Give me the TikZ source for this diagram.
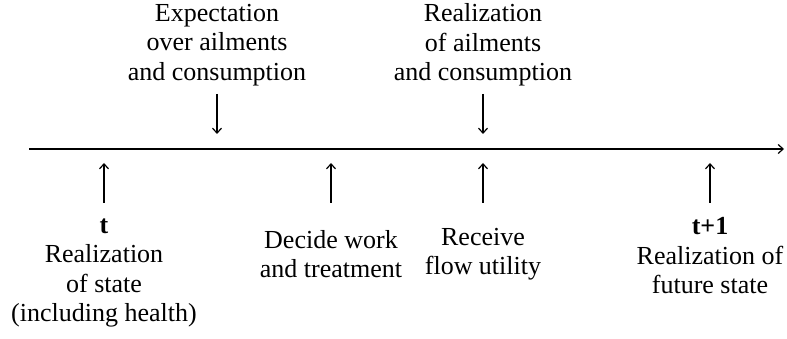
\documentclass[tikz,border=0pt]{standalone}
\usepackage{fontspec}
\setmainfont{Liberation Serif}
\usetikzlibrary{arrows.meta}
\begin{document}
\begin{tikzpicture}[x=1pt,y=-1pt,
  lbl/.style={align=center,inner sep=0pt,font=\fontsize{26}{29.5}\selectfont},
  blbl/.style={lbl,font=\fontsize{26}{29.5}\selectfont\bfseries},
  arr/.style={line width=1.2pt,-{Straight Barb[length=5pt,width=9pt,line width=1.2pt]}}]
\useasboundingbox (0,0) rectangle (787,339);
% axis
\coordinate (axL) at (29,149);
\coordinate (axR) at (784,149);
\draw[arr] (axL) -- (axR);
% top labels
\node[lbl] (exp) at (217,45) {Expectation\\over ailments\\and consumption};
\node[lbl] (real) at (483,45) {Realization\\of ailments\\and consumption};
\coordinate (d1s) at (217,94);
\coordinate (d1e) at (217,134);
\coordinate (d2s) at (483,94);
\coordinate (d2e) at (483,134);
\draw[arr] (d1s) -- (d1e);
\draw[arr] (d2s) -- (d2e);
% bottom labels
\node[blbl] (t) at (104,226) {t};
\node[lbl] (state) at (104,286) {Realization\\of state\\(including health)};
\node[lbl] (decide) at (331,254) {Decide work\\and treatment};
\node[lbl] (flow) at (483,254) {Receive\\flow utility};
\node[blbl] (t1) at (710,226) {t+1};
\node[lbl] (future) at (710,270) {Realization of\\future state};
% up arrows
\coordinate (u1s) at (104,203);
\coordinate (u1e) at (104,163);
\coordinate (u2s) at (331,203);
\coordinate (u2e) at (331,163);
\coordinate (u3s) at (483,203);
\coordinate (u3e) at (483,163);
\coordinate (u4s) at (710,203);
\coordinate (u4e) at (710,163);
\draw[arr] (u1s) -- (u1e);
\draw[arr] (u2s) -- (u2e);
\draw[arr] (u3s) -- (u3e);
\draw[arr] (u4s) -- (u4e);
\end{tikzpicture}
\end{document}
